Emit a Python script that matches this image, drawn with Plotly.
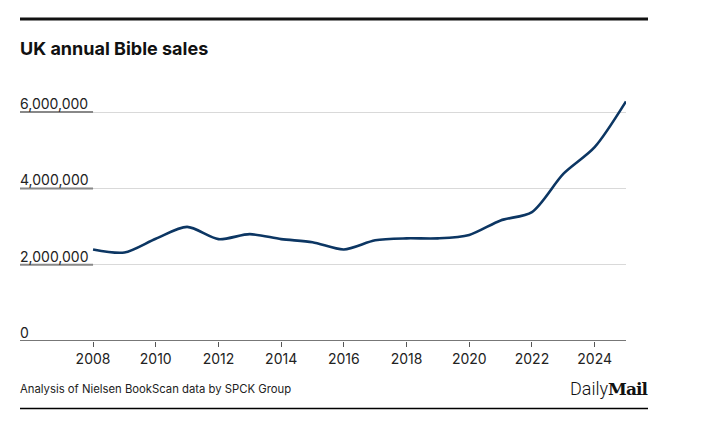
import plotly.graph_objects as go

years = list(range(2008, 2026))
sales = [2400000, 2320000, 2680000, 2990000, 2670000, 2800000, 2670000, 2590000,
         2400000, 2640000, 2690000, 2690000, 2780000, 3160000, 3380000, 4380000,
         5080000, 6280000]
y_ticks = [0, 2000000, 4000000, 6000000]
y_labels = ["0", "2,000,000", "4,000,000", "6,000,000"]
x_ticks = list(range(2008, 2025, 2))

FONT = "Inter, Roboto, sans-serif"
PH = 248.0  # plot height in px
PW = 606.0  # plot width in px

def py(screen_y):
    return (341 - screen_y) / PH

def px(screen_x):
    return (screen_x - 20) / PW

fig = go.Figure()
fig.add_trace(go.Scatter(
    x=years, y=sales, mode="lines",
    line=dict(color="#0c3663", width=2.6, shape="spline", smoothing=0.8),
    hoverinfo="skip", showlegend=False,
))

# page has an 8px body margin, so figure is 712x413 and offset by 8px
fig.update_layout(
    width=712, height=413,
    margin=dict(l=12, r=94, t=85, b=80),
    paper_bgcolor="white", plot_bgcolor="white",
    font=dict(family=FONT, color="#222"),
    xaxis=dict(
        range=[2005.67, 2025], tickvals=x_ticks, ticktext=[str(v) for v in x_ticks],
        showgrid=False, zeroline=False, showline=False,
        ticks="outside", ticklen=5, tickcolor="#555", tickwidth=1,
        tickfont=dict(size=14, color="#222", family=FONT),
        fixedrange=True,
    ),
    yaxis=dict(
        range=[0, 6500000], tickvals=y_ticks, showticklabels=False,
        showgrid=True, gridcolor="#d9d9d9", gridwidth=1,
        zeroline=False, showline=False, fixedrange=True,
    ),
)

# zero axis line
fig.add_shape(type="line", xref="paper", yref="y", x0=0, x1=1, y0=0, y1=0,
              line=dict(color="#777", width=2), layer="above")

# y labels and their darker underlines
for v, lab in zip(y_ticks, y_labels):
    fig.add_annotation(x=0, xref="paper", y=v, yref="y", text=lab,
                       xanchor="left", yanchor="bottom", showarrow=False,
                       font=dict(size=14, color="#222", family=FONT), xshift=-2, yshift=-2)
    if v > 0:
        fig.add_shape(type="line", xref="x", yref="y", x0=2005.67, x1=2008, y0=v, y1=v,
                      line=dict(color="#888", width=2))

# top rule
fig.add_shape(type="line", xref="paper", yref="paper",
              x0=0, x1=px(648), y0=py(19), y1=py(19),
              line=dict(color="#111", width=3))
# bottom rule
fig.add_shape(type="line", xref="paper", yref="paper",
              x0=0, x1=px(648), y0=py(408.5), y1=py(408.5),
              line=dict(color="#000", width=1.5))

# title
fig.add_annotation(x=0, xref="paper", y=py(48), yref="paper", text="<b>UK annual Bible sales</b>",
                   xanchor="left", yanchor="middle", showarrow=False,
                   font=dict(size=18, color="#111", family=FONT), xshift=-2)
# source
fig.add_annotation(x=0, xref="paper", y=py(389), yref="paper",
                   text="Analysis of Nielsen BookScan data by SPCK Group",
                   xanchor="left", yanchor="middle", showarrow=False,
                   font=dict(size=11.3, color="#222", family=FONT), xshift=-2)
# logo
fig.add_annotation(x=px(648), xref="paper", y=py(388), yref="paper",
                   text="<span style='font-family:Roboto;font-weight:300;font-size:18px'>Daily</span><span style='font-family:DejaVu Serif;font-weight:bold;letter-spacing:-1px'>Mail</span>",
                   xanchor="right", yanchor="middle", showarrow=False,
                   font=dict(size=17, color="#111"), xshift=2)

fig.write_html("out.html")
